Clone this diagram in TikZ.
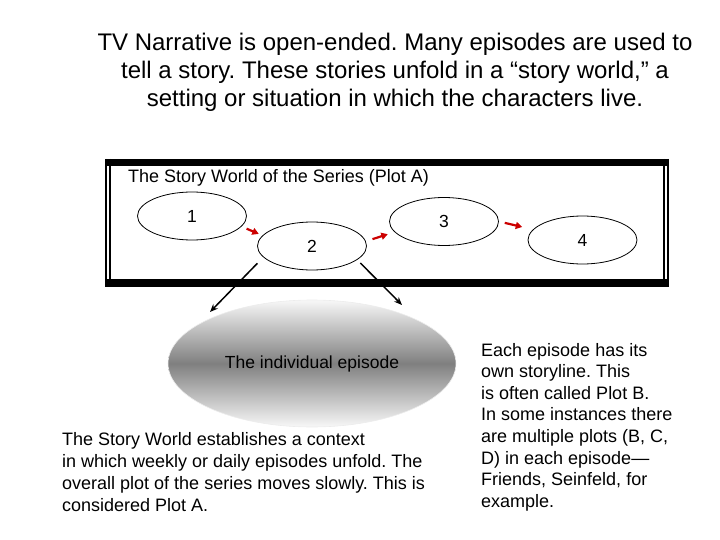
\documentclass[tikz,border=0pt]{standalone}
\usepackage{fontspec}
\setmainfont{Liberation Sans}
\frenchspacing
\usetikzlibrary{shapes.geometric,arrows.meta}
\begin{document}
\begin{tikzpicture}[x=1pt,y=-1pt,
  epnode/.style={ellipse, draw=black, line width=0.8pt, minimum width=109pt, minimum height=48pt, inner sep=0pt, font=\fontsize{17.5}{20}\selectfont},
  redarr/.style={draw=red!80!black, line width=2.2pt, -{Triangle[length=6.5pt,width=7pt]}},
  blkarr/.style={draw=black, line width=1.5pt, -{Stealth[length=8pt,width=6.5pt]}},
  body/.style={font=\fontsize{18}{22}\selectfont, align=left, inner sep=0pt, anchor=base west},
]
\useasboundingbox (0,0) rectangle (720,540);

% title (anchor base = baseline of last line)
\node[font=\fontsize{24}{28}\selectfont, align=center, anchor=base, inner sep=0pt] (title) at (395,107)
  {TV Narrative is open-ended. Many episodes are used to\\
   tell a story. These stories unfold in a “story world,” a\\
   setting or situation in which the characters live.};

% frame of the story world
\fill[black] (105,159) rectangle (669,166);
\fill[black] (105,279) rectangle (669,287);
\draw[line width=1.5pt] (105.8,159) -- (105.8,287);
\draw[line width=1.8pt] (110,159) -- (110,287);
\draw[line width=1.8pt] (663.8,159) -- (663.8,287);
\draw[line width=1.5pt] (668,159) -- (668,287);

\node[font=\fontsize{18}{20}\selectfont, anchor=base west, inner sep=0pt] (lbl) at (128,183)
  {The Story World of the Series (Plot A)};

% episodes in the story world
\node[epnode] (e1) at (192,216) {1};
\node[epnode] (e2) at (312,246) {2};
\node[epnode] (e3) at (444,221.5) {3};
\node[epnode] (e4) at (582.5,240) {4};

\draw[redarr, shorten <=5.5pt, shorten >=4pt] (e1.-12.5) -- (e2.168.5);
\draw[redarr, shorten <=7pt, shorten >=7pt] (e2.5.7) -- (e3.192.3);
\draw[redarr, shorten <=6pt, shorten >=11pt] (e3.0) -- (e4.168.8);

% the individual episode
\node[ellipse, minimum width=288pt, minimum height=127pt, inner sep=0pt,
      top color=gray!6, bottom color=gray!6, middle color=black!50,
      draw=gray!15, line width=0.6pt,
      font=\fontsize{17.5}{20}\selectfont] (epi) at (312,363.5) {The individual episode};

\coordinate (a1) at (210,312);
\coordinate (a2) at (402,305);
\draw[blkarr, shorten <=8.5pt] (e2.193) -- (a1);
\draw[blkarr, shorten <=4.5pt] (e2.-17) -- (a2);

% texts (anchor base = baseline of last line)
\node[body] (left) at (62,511.5)
  {The Story World establishes a context\\
   in which weekly or daily episodes unfold. The\\
   overall plot of the series moves slowly. This is\\
   considered Plot A.};
\node[body, font=\fontsize{18}{21.6}\selectfont] (right) at (481,507.2)
  {Each episode has its\\
   own storyline. This\\
   is often called Plot B.\\
   In some instances there\\
   are multiple plots (B, C,\\
   D) in each episode—\\
   Friends, Seinfeld, for\\
   example.};
\end{tikzpicture}
\end{document}
